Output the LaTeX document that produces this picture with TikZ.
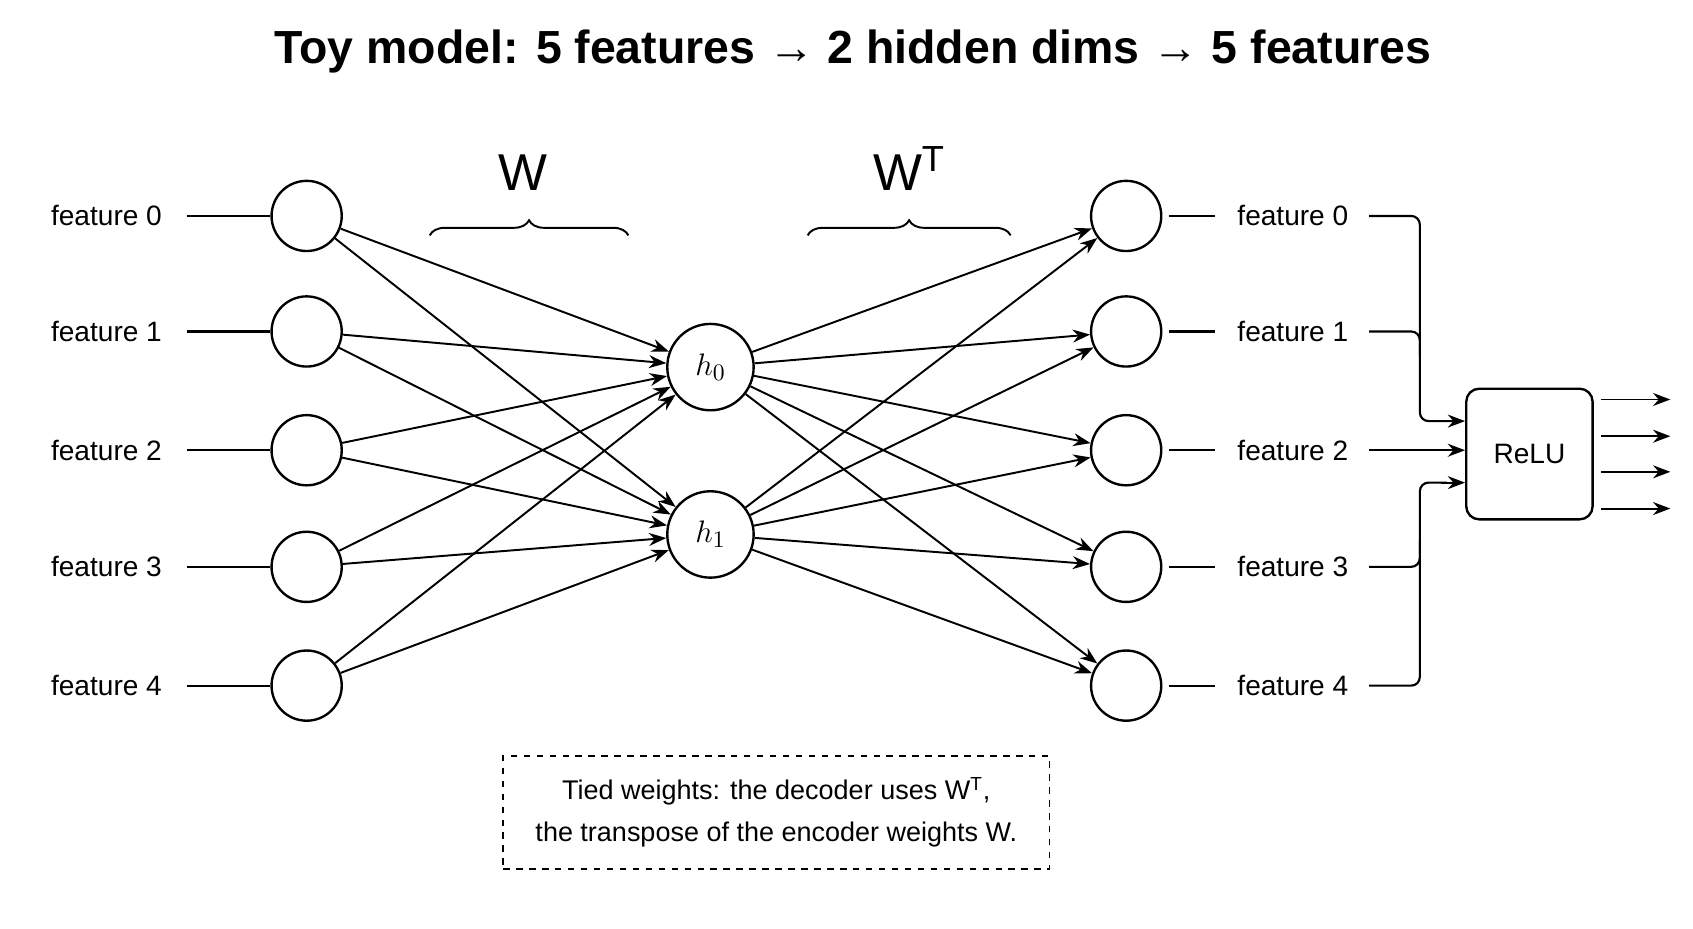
\documentclass[tikz,border=0pt]{standalone}
\usepackage{fontspec}
\setmainfont{Liberation Sans}
\usetikzlibrary{arrows.meta,decorations.pathreplacing}
\begin{document}
\begin{tikzpicture}[x=0.5pt,y=-0.5pt,
  neuron/.style={circle,draw,line width=1.1pt,minimum size=32.5pt,inner sep=0pt},
  hid/.style={circle,draw,line width=1.1pt,minimum size=40pt,inner sep=0pt,font=\fontsize{15}{18}\selectfont},
  lab/.style={font=\fontsize{13}{16}\selectfont},
  ln/.style={line width=1pt},
  arr/.style={line width=0.9pt,-{Stealth[length=8pt,width=6pt]}},
  br/.style={line width=0.9pt,decorate,decoration={brace,amplitude=7pt}}]
\useasboundingbox (0,0) rectangle (1568,860);
\node[font=\fontsize{21.5}{26}\selectfont\bfseries] (title) at (790,48) {Toy model: 5 features → 2 hidden dims → 5 features};
\foreach \i/\y in {0/200,1/307,2/417,3/525,4/635}{
  \node[neuron] (l\i) at (284,\y) {};
  \node[lab,anchor=east] (lt\i) at (157,\y) {feature \i};
  \coordinate (ls\i) at (173,\y);
  \draw[ln] (ls\i) -- (l\i.west);
  \node[neuron] (r\i) at (1043,\y) {};
  \node[lab,anchor=west] (rt\i) at (1139,\y) {feature \i};
  \coordinate (re\i) at (1125,\y);
  \draw[ln] (r\i.east)++(6,0) -- (re\i);
}
\node[hid] (h0) at (658,340) {$h_0$};
\node[hid] (h1) at (658,495) {$h_1$};
\foreach \i in {0,...,4}{
  \draw[arr] (l\i) -- (h0);
  \draw[arr] (l\i) -- (h1);
  \draw[arr] (h0) -- (r\i);
  \draw[arr] (h1) -- (r\i);
}
% braces
\coordinate (b1a) at (398,218); \coordinate (b1b) at (582,218);
\draw[br] (b1a) -- (b1b);
\node[font=\fontsize{24}{28}\selectfont] (W) at (484,160) {W};
\coordinate (b2a) at (748,218); \coordinate (b2b) at (936,218);
\draw[br] (b2a) -- (b2b);
\node[font=\fontsize{24}{28}\selectfont] (WT) at (842,156) {W$^{\mathrm{T}}$};
% ReLU
\node[draw,line width=1.1pt,rounded corners=6pt,minimum width=58.5pt,minimum height=60.5pt,lab] (relu) at (1416.5,420.5) {ReLU};
\foreach \i/\y in {0/200,1/307,2/417,3/525,4/635}{
  \coordinate (s\i) at (1268,\y);
}
\draw[ln,rounded corners=4pt] (s0) -- (1315,200) -- (1315,390) -- (1345,390);
\draw[arr] (1340,390) -- (relu.west |- 0,390);
\draw[ln,rounded corners=4pt] (s1) -- (1315,307) -- (1315,330);
\draw[arr] (s2) -- (relu.west |- 0,417);
\draw[ln,rounded corners=4pt] (s4) -- (1315,635) -- (1315,447) -- (1340,447);
\draw[arr] (1335,447) -- (relu.west |- 0,447);
\draw[ln,rounded corners=4pt] (s3) -- (1315,525) -- (1315,500);
\foreach \y in {370,404,437,471}{
  \draw[arr] (relu.east |- 0,\y) ++(7,0) -- (1547,\y);
}
% note
\node[draw,dashed,line width=0.9pt,minimum width=253pt,minimum height=52.5pt,align=center,font=\fontsize{12.5}{19.5}\selectfont] (note) at (719,752.5)
 {Tied weights: the decoder uses W$^{\mathrm{T}}$,\\ the transpose of the encoder weights W.};
\end{tikzpicture}
\end{document}
